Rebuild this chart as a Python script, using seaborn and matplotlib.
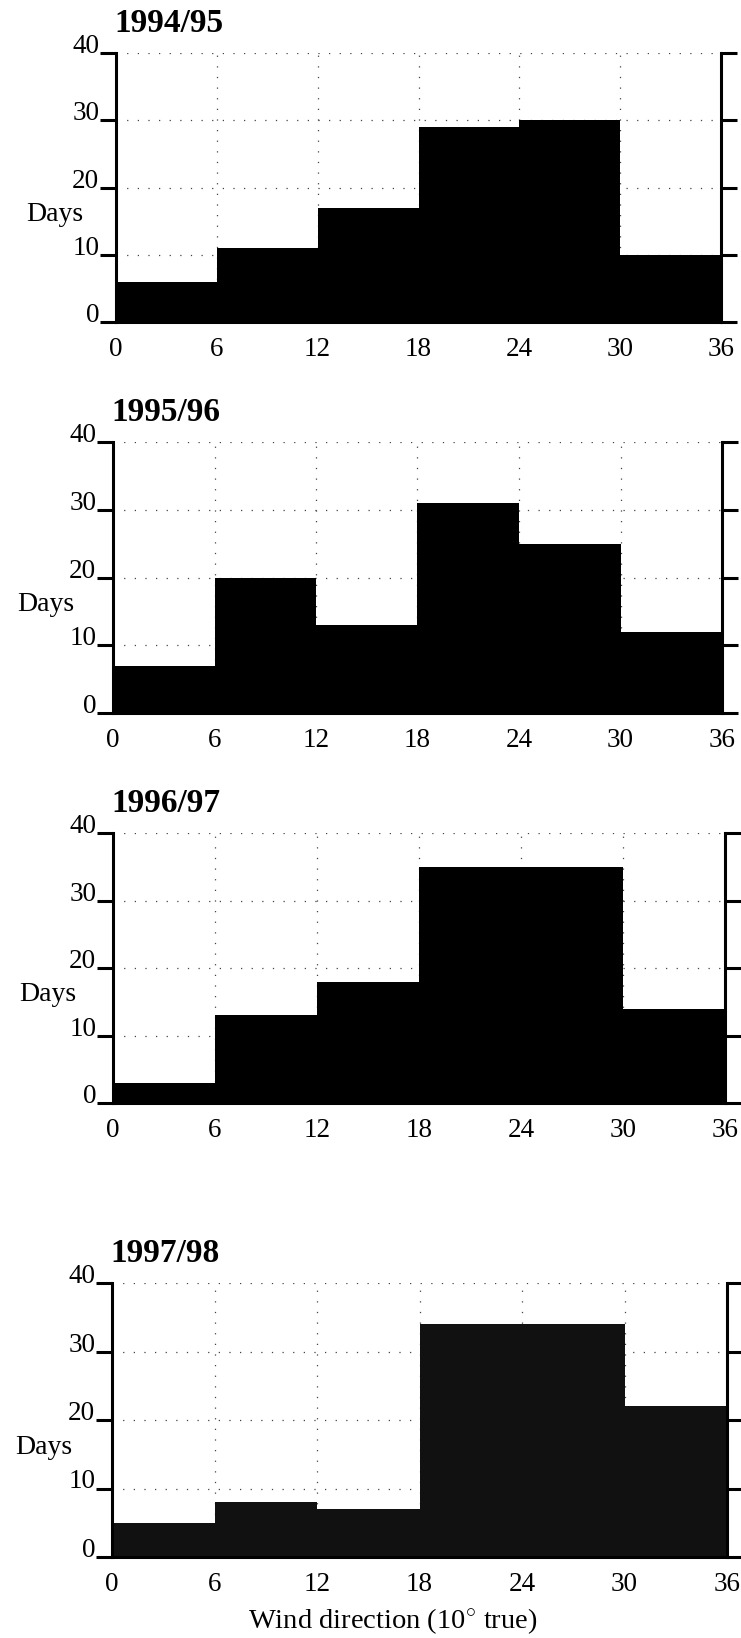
import numpy as np
import pandas as pd
import matplotlib
matplotlib.use("Agg")
import matplotlib.pyplot as plt
import seaborn as sns

# ---- data ----
seasons = ["1994/95", "1995/96", "1996/97", "1997/98"]
bin_edges = [0, 6, 12, 18, 24, 30, 36]
days_9495 = [6, 11, 17, 29, 30, 10]
days_9596 = [7, 20, 13, 31, 25, 12]
days_9697 = [3, 13, 18, 35, 35, 14]
days_9798 = [5, 8, 7, 34, 34, 22]
x_ticks = [0, 6, 12, 18, 24, 30, 36]
y_ticks = [0, 10, 20, 30, 40]
x_label = "Wind direction (10$^{\\circ}$ true)"
y_label = "Days"

all_days = [days_9495, days_9596, days_9697, days_9798]
bar_colors = ["#000000", "#000000", "#000000", "#111111"]

sns.set_theme(style="white")
plt.rcParams["font.family"] = ["Liberation Serif", "DejaVu Serif"]
plt.rcParams["mathtext.fontset"] = "custom"
plt.rcParams["mathtext.rm"] = "Liberation Serif"

W, H = 741, 1638
fig = plt.figure(figsize=(W / 100, H / 100), dpi=100)

# axes boxes in pixel coordinates: left, right, top, bottom
boxes = [(116, 721, 53, 322), (113, 722, 442, 713),
         (113, 725, 833, 1103), (112, 727, 1283, 1557)]
days_x = [55, 46, 48, 44]

centers = [(a + b) / 2 for a, b in zip(bin_edges[:-1], bin_edges[1:])]

for i, (season, vals) in enumerate(zip(seasons, all_days)):
    l, r, t, b = boxes[i]
    ax = fig.add_axes([l / W, 1 - b / H, (r - l) / W, (b - t) / H])
    df = pd.DataFrame({"direction": centers, "days": vals})
    sns.histplot(data=df, x="direction", weights="days", bins=bin_edges,
                 element="step", fill=True, alpha=1, color=bar_colors[i],
                 linewidth=0, ax=ax)
    ax.set_xlim(0, 36)
    ax.set_ylim(0, 40)
    ax.set_xticks(x_ticks)
    ax.set_yticks(y_ticks)
    ax.set_xticklabels([str(v) for v in x_ticks], fontsize=19.5)
    ax.set_yticklabels([str(v) for v in y_ticks], fontsize=19.5)
    for lab in ax.get_yticklabels():
        lab.set_verticalalignment("baseline")
    ax.set_xlabel("")
    ax.set_ylabel("")
    ax.set_axisbelow(True)
    ax.grid(True, color="#444444", linewidth=0.9, linestyle=(0, (1.0, 7.5)))
    for side in ["left", "right", "bottom"]:
        ax.spines[side].set_visible(True)
        ax.spines[side].set_linewidth(2.2)
        ax.spines[side].set_color("black")
    ax.spines["top"].set_visible(False)
    ax.tick_params(axis="y", which="both", left=True, right=True,
                   labelleft=True, labelright=False, direction="out",
                   length=11.5, width=2.2, pad=0.5, colors="black",
                   labelcolor="black")
    ax.tick_params(axis="x", length=0, pad=11, labelcolor="black")
    ax.annotate(season, xy=(0, 1), xycoords="axes fraction",
                xytext=(-1, 21), textcoords="offset points",
                ha="left", va="center", fontsize=24, fontweight="bold",
                color="black")
    y_days = b - 0.4 * (b - t)
    fig.text(days_x[i] / W, 1 - y_days / H, y_label, ha="center",
             va="center", fontsize=20, color="black")

fig.text(393 / W, 1 - 1622 / H, x_label, ha="center", va="center",
         fontsize=20.5, color="black")

fig.savefig("out.png", dpi=100, facecolor="white")
